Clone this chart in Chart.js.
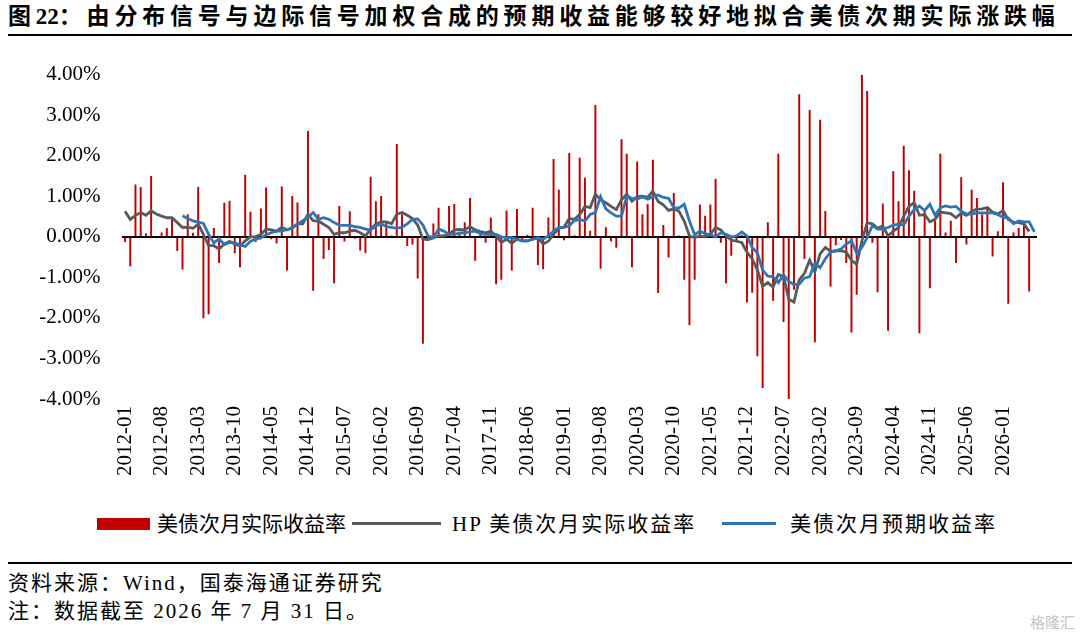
<!DOCTYPE html>
<html>
<head>
<meta charset="utf-8">
<script src="https://cdn.jsdelivr.net/npm/chart.js@4.4.1/dist/chart.umd.min.js"></script>
<style>
body{margin:0;width:1080px;height:635px;background:#fff;position:relative;overflow:hidden;
	font-family:"Liberation Serif","Noto Sans CJK SC",serif;color:#000;}
#title{position:absolute;left:8px;top:3px;font-size:23px;font-weight:bold;letter-spacing:4.8px;white-space:nowrap;line-height:27px;}
#title .num{letter-spacing:0;}
.rule{position:absolute;left:8px;width:1064px;height:2px;background:#000;}
#box{position:absolute;left:0;top:40px;width:1080px;height:470px;}
.leg{position:absolute;top:511px;font-size:21px;line-height:26px;letter-spacing:2px;white-space:nowrap;}
.mark{position:absolute;}
.src{position:absolute;left:8px;font-size:21px;letter-spacing:2px;line-height:24px;white-space:nowrap;}
#logo{position:absolute;left:1030px;top:611px;font-size:15px;color:#c4c4c4;font-family:"Noto Sans CJK SC";}
</style>
</head>
<body>
<div id="title">图<span class="num">22</span>：由分布信号与边际信号加权合成的预期收益能够较好地拟合美债次期实际涨跌幅</div>
<div class="rule" style="top:34px;"></div>

<div id="box"><canvas id="mainChart"></canvas></div>

<div class="mark" style="left:97px;top:518px;width:53px;height:12px;background:#C00000;"></div>
<div class="leg" style="left:157px;letter-spacing:0;">美债次月实际收益率</div>
<div class="mark" style="left:352px;top:522px;width:89px;height:3px;background:#595959;"></div>
<div class="leg" style="left:452px;">HP 美债次月实际收益率</div>
<div class="mark" style="left:722px;top:522px;width:54px;height:3px;background:#2E75B6;"></div>
<div class="leg" style="left:790px;">美债次月预期收益率</div>

<div class="rule" style="top:562px;height:1.5px;"></div>
<div class="src" style="top:571px;">资料来源：Wind，国泰海通证券研究</div>
<div class="src" style="top:599px;">注：数据截至 2026 年 7 月 31 日。</div>
<div id="logo">格隆汇</div>

<script>
// months 2012-01 ~ 2026-07
var months = [];
for(var y=2012; y<=2026; y++){
	for(var m=1; m<=12; m++){
		if(y==2026 && m>7) break;
		months.push(y+'-'+(m<10?'0'+m:m));
	}
}

// 美债次月实际收益率 (%)
var actualRet = [
	-0.12,-0.72,1.28,1.22,0.08,1.49,-0.03,0.10,0.21,0.43,-0.34,-0.80,
	0.55,0.09,1.22,-2.00,-1.90,0.21,-0.64,0.83,0.88,-0.40,-0.74,1.52,
	0.61,-0.12,0.69,1.21,-0.05,-0.16,1.23,-0.82,1.00,0.84,-0.03,2.60,
	-1.32,0.55,-0.54,-0.32,-1.14,0.75,-0.11,0.62,-0.04,-0.33,-0.39,1.47,
	0.87,1.00,0.33,0.02,2.28,0.55,-0.22,-0.18,-1.02,-2.63,-0.05,0.32,
	0.71,0.05,0.75,0.80,0.08,0.35,0.95,-0.58,0.04,-0.14,0.47,-1.16,
	-1.05,0.64,-0.82,0.68,-0.10,0.04,0.71,-0.69,-0.79,0.47,1.91,1.15,
	-0.08,2.06,0.03,1.94,1.45,0.14,3.24,-0.78,0.23,-0.10,-0.26,2.40,
	2.04,-0.74,1.85,0.55,0.80,1.89,-1.38,0.28,-0.50,1.07,0.02,-1.05,
	-2.17,-1.05,0.79,0.51,0.79,1.42,-0.14,-1.14,-0.46,-0.10,0.04,-1.61,
	-1.37,-2.94,-3.72,0.35,-1.57,2.04,-2.09,-4.00,-1.30,3.51,-0.54,3.12,
	-2.59,2.88,0.63,-1.22,-0.20,-0.07,-0.64,-2.35,-1.42,3.99,3.59,-0.14,
	-1.36,0.81,-2.31,1.61,0.87,2.24,1.63,1.13,-2.37,0.63,-1.26,0.39,
	2.04,0.10,0.39,-0.64,1.46,-0.18,1.15,0.95,0.55,0.68,-0.48,0.13,
	1.34,-1.64,0.10,0.21,0.29,-1.34,null
];

// HP 美债次月实际收益率 (%)
var hpRet = [
	0.63,0.43,0.53,0.60,0.53,0.64,0.56,0.51,0.47,0.47,0.35,0.23,
	0.24,0.21,0.31,0.06,-0.22,-0.22,-0.30,-0.18,-0.11,-0.18,-0.23,-0.10,
	0.00,0.00,0.06,0.19,0.17,0.14,0.24,0.17,0.23,0.32,0.32,0.55,
	0.40,0.39,0.31,0.23,0.06,0.10,0.10,0.14,0.16,0.10,0.02,0.19,
	0.32,0.37,0.37,0.32,0.56,0.60,0.53,0.45,0.29,-0.06,-0.07,-0.03,
	0.02,0.02,0.06,0.17,0.18,0.17,0.25,0.17,0.13,0.10,0.14,0.02,
	-0.14,-0.06,-0.16,-0.06,-0.10,-0.10,-0.06,-0.03,-0.18,-0.11,0.06,0.21,
	0.24,0.45,0.43,0.55,0.75,0.72,1.05,0.91,0.84,0.75,0.67,0.91,
	1.05,0.88,0.99,1.00,0.97,1.13,0.87,0.79,0.65,0.69,0.63,0.39,
	0.02,-0.02,0.02,0.00,0.06,0.23,0.17,0.02,-0.08,-0.11,-0.14,-0.38,
	-0.54,-0.82,-1.22,-1.13,-1.24,-0.93,-0.98,-1.54,-1.61,-1.06,-0.90,-0.58,
	-0.86,-0.42,-0.26,-0.36,-0.35,-0.34,-0.38,-0.58,-0.68,-0.10,0.35,0.32,
	0.21,0.27,0.02,0.14,0.23,0.51,0.75,0.84,0.53,0.55,0.37,0.43,
	0.61,0.59,0.57,0.47,0.59,0.53,0.63,0.68,0.69,0.72,0.61,0.56,
	0.65,0.43,0.36,0.35,0.32,0.13,null
];

// 美债次月预期收益率 (%)
var predRet = [
	null,null,null,null,null,null,null,null,null,null,null,0.52,
	0.45,0.39,0.36,0.33,0.06,-0.15,-0.05,-0.19,-0.14,-0.15,-0.20,-0.24,
	-0.11,-0.06,-0.03,0.05,0.10,0.14,0.14,0.18,0.21,0.31,0.40,0.48,
	0.60,0.43,0.47,0.43,0.35,0.29,0.28,0.28,0.25,0.23,0.19,0.17,
	0.27,0.32,0.25,0.23,0.21,0.24,0.32,0.43,0.44,0.29,0.02,-0.02,
	0.19,0.14,0.06,0.06,0.09,0.10,0.12,0.14,0.08,0.06,0.06,0.06,
	0.00,-0.02,-0.02,-0.06,-0.10,-0.10,-0.06,-0.02,-0.06,0.02,0.14,0.23,
	0.23,0.27,0.40,0.43,0.39,0.55,0.60,0.99,0.69,0.59,0.51,0.51,
	1.00,0.95,0.93,0.99,0.93,0.99,1.03,0.97,0.95,0.72,0.71,0.80,
	0.39,0.05,0.14,0.08,0.05,0.00,0.10,0.06,0.00,0.02,0.12,0.02,
	-0.26,-0.40,-0.82,-0.97,-0.98,-1.13,-0.94,-1.10,-1.18,-1.17,-1.02,-0.98,
	-0.66,-0.76,-0.54,-0.38,-0.34,-0.30,-0.18,-0.10,-0.40,-0.26,-0.02,0.28,
	0.19,0.19,0.23,0.29,0.31,0.29,0.51,0.67,0.76,0.65,0.80,0.53,
	0.72,0.76,0.73,0.75,0.63,0.56,0.56,0.59,0.59,0.59,0.59,0.55,
	0.48,0.47,0.32,0.39,0.37,0.37,0.12
];

var yTicks = [-4,-3,-2,-1,0,1,2,3,4];
var tickEvery = 7;

var ctx = document.getElementById('mainChart').getContext('2d');
var chart = new Chart(ctx, {
	type: 'bar',
	data: {
		labels: months,
		datasets: [{
			label: '美债次月实际收益率',
			data: actualRet,
			backgroundColor: '#C00000',
			barThickness: 1.3,
			order: 3
		},{
			type: 'line',
			label: 'HP 美债次月实际收益率',
			data: hpRet,
			borderColor: '#595959',
			borderWidth: 2.8,
			pointRadius: 0,
			tension: 0,
			order: 2
		},{
			type: 'line',
			label: '美债次月预期收益率',
			data: predRet,
			borderColor: '#2E75B6',
			borderWidth: 2.8,
			pointRadius: 0,
			tension: 0,
			order: 1
		}]
	},
	options: {
		responsive: true,
		maintainAspectRatio: false,
		animation: false,
		layout: { padding: { left: 0, right: 43, top: 27, bottom: 0 } },
		plugins: {
			legend: { display: false },
			tooltip: { enabled: false }
		},
		scales: {
			x: {
				grid: { display: false, drawTicks: false },
				border: { display: false },
				ticks: {
					autoSkip: false,
					maxRotation: 90,
					minRotation: 90,
					padding: 7,
					color: '#000',
					font: { family: 'Liberation Serif', size: 21 },
					callback: function(val, idx){
						return idx % tickEvery == 0 ? months[idx] : '';
					}
				},
				afterFit: function(axis){ axis.height = 111; }
			},
			y: {
				min: yTicks[0],
				max: yTicks[yTicks.length-1],
				afterBuildTicks: function(axis){
					axis.ticks = yTicks.map(function(v){ return {value: v}; });
				},
				grid: {
					drawTicks: false,
					lineWidth: 2,
					color: function(c){ return c.tick && c.tick.value === 0 ? '#000' : 'rgba(0,0,0,0)'; }
				},
				border: { display: false },
				ticks: {
					padding: 22,
					color: '#000',
					font: { family: 'Liberation Serif', size: 21 },
					callback: function(v){ return v.toFixed(2) + '%'; }
				},
				afterFit: function(axis){ axis.width = 122.4; }
			}
		}
	}
});
</script>
</body>
</html>
